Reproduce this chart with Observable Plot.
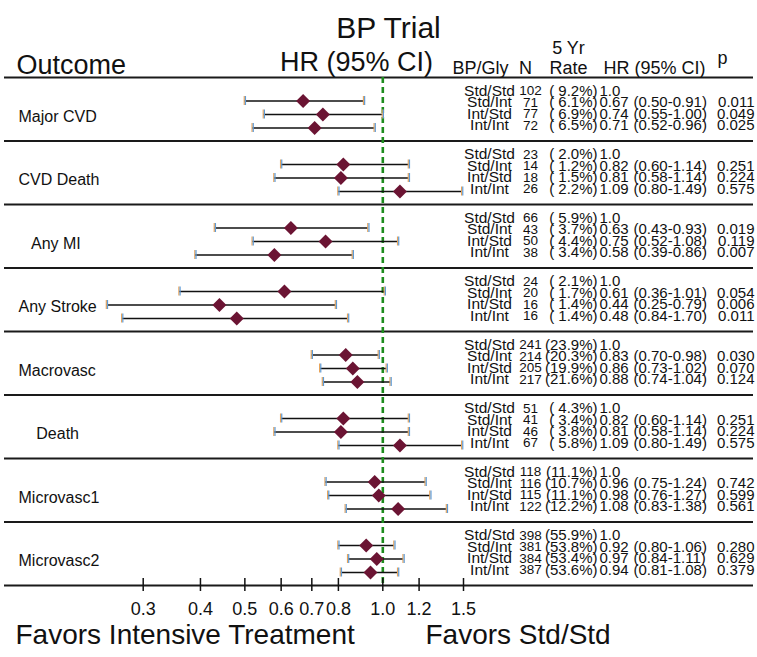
<!DOCTYPE html>
<html><head><meta charset="utf-8">
<script src="https://cdn.jsdelivr.net/npm/d3@7"></script>
<script src="https://cdn.jsdelivr.net/npm/@observablehq/plot@0.6"></script>
<style>
html,body{margin:0;padding:0;background:#fff;}
svg text{white-space:pre;}
</style></head><body><div id="chart"></div>
<script>
// ---- data ----
const outcomeLabels = ["Major CVD","CVD Death","   Any MI","Any Stroke","Macrovasc","    Death","Microvasc1","Microvasc2"];
const arms = ["Std/Std","Std/Int","Int/Std","Int/Int"];
const nCounts = [
  [102,71,77,72],[23,14,18,26],[66,43,50,38],[24,20,16,16],
  [241,214,205,217],[51,41,46,67],[118,116,115,122],[398,381,384,387]];
const rates = [
  [9.2,6.1,6.9,6.5],[2.0,1.2,1.5,2.2],[5.9,3.7,4.4,3.4],[2.1,1.7,1.4,1.4],
  [23.9,20.3,19.9,21.6],[4.3,3.4,3.8,5.8],[11.1,10.7,11.1,12.2],[55.9,53.8,53.4,53.6]];
// hazard ratios for Std/Int, Int/Std, Int/Int (Std/Std is reference 1.0)
const hrs = [
  [0.67,0.74,0.71],[0.82,0.81,1.09],[0.63,0.75,0.58],[0.61,0.44,0.48],
  [0.83,0.86,0.88],[0.82,0.81,1.09],[0.96,0.98,1.08],[0.92,0.97,0.94]];
const ciLow = [
  [0.50,0.55,0.52],[0.60,0.58,0.80],[0.43,0.52,0.39],[0.36,0.25,0.27],
  [0.70,0.73,0.74],[0.60,0.58,0.80],[0.75,0.76,0.83],[0.80,0.84,0.81]];
const ciHigh = [
  [0.91,1.00,0.96],[1.14,1.14,1.49],[0.93,1.08,0.86],[1.01,0.79,0.84],
  [0.98,1.02,1.04],[1.14,1.14,1.49],[1.24,1.27,1.38],[1.06,1.11,1.08]];
const ciLabels = [
  ["(0.50-0.91)","(0.55-1.00)","(0.52-0.96)"],
  ["(0.60-1.14)","(0.58-1.14)","(0.80-1.49)"],
  ["(0.43-0.93)","(0.52-1.08)","(0.39-0.86)"],
  ["(0.36-1.01)","(0.25-0.79)","(0.84-1.70)"],
  ["(0.70-0.98)","(0.73-1.02)","(0.74-1.04)"],
  ["(0.60-1.14)","(0.58-1.14)","(0.80-1.49)"],
  ["(0.75-1.24)","(0.76-1.27)","(0.83-1.38)"],
  ["(0.80-1.06)","(0.84-1.11)","(0.81-1.08)"]];
const pValues = [
  ["0.011","0.049","0.025"],["0.251","0.224","0.575"],["0.019","0.119","0.007"],
  ["0.054","0.006","0.011"],["0.030","0.070","0.124"],["0.251","0.224","0.575"],
  ["0.742","0.599","0.561"],["0.280","0.629","0.379"]];
const xTicks = [0.3,0.4,0.5,0.6,0.7,0.8,1.0,1.2,1.5];
const xTickLabels = ["0.3","0.4","0.5","0.6","0.7","0.8","1.0","1.2","1.5"];

// ---- derived tables ----
const groups = outcomeLabels.map((label, g) => ({g, label}));
const tableRows = [];
const bars = [];
outcomeLabels.forEach((_, g) => {
  arms.forEach((arm, r) => {
    const rate = rates[g][r];
    tableRows.push({
      g, r, arm,
      n: String(nCounts[g][r]),
      rate: "(" + (rate < 10 ? " " : "") + rate.toFixed(1) + "%)",
      hr: r === 0 ? "1.0" : hrs[g][r-1].toFixed(2),
      ci: r === 0 ? "" : ciLabels[g][r-1],
      p: r === 0 ? "" : pValues[g][r-1]
    });
    if (r > 0) bars.push({g, r, hr: hrs[g][r-1], lo: ciLow[g][r-1], hi: ciHigh[g][r-1]});
  });
});
const textY = d => d.g + 0.2126 + 0.1811 * d.r;
const barY = d => d.g + 0.370 + 0.2126 * (d.r - 1);

const W = 757, H = 657, TOP = 77, BOTTOM = 585;
const font = "Liberation Sans, Arial, sans-serif";
const txt = (data, o) => Plot.text(data, {fill: "#111", fontFamily: font, ...o});

const chart = Plot.plot({
  width: W, height: H,
  marginTop: TOP, marginBottom: H - BOTTOM, marginLeft: 0, marginRight: 0,
  style: {fontFamily: font, background: "#fff"},
  x: {type: "log", domain: [0.3, 1.5], range: [142.7, 463], axis: null},
  y: {domain: [0, 8], range: [TOP, BOTTOM], axis: null},
  marks: [
    Plot.ruleY(d3.range(0, 9), {y: d => d, stroke: "#1a1a1a", strokeWidth: 2, insetLeft: 4, insetRight: 4}),
    Plot.ruleX([1], {x: d => d, stroke: "#1e8c1e", strokeWidth: 2.6, strokeDasharray: "6,4"}),
    Plot.ruleY(bars, {y: barY, x1: "lo", x2: "hi", stroke: "#111", strokeWidth: 1.6}),
    Plot.ruleX(bars, {x: "lo", y1: barY, y2: barY, insetTop: -4.5, insetBottom: -4.5, stroke: "#e8a45a", strokeWidth: 1.2, dx: -0.6}),
    Plot.ruleX(bars, {x: "lo", y1: barY, y2: barY, insetTop: -4.5, insetBottom: -4.5, stroke: "#5d9bd8", strokeWidth: 1.2, dx: 0.6}),
    Plot.ruleX(bars, {x: "hi", y1: barY, y2: barY, insetTop: -4.5, insetBottom: -4.5, stroke: "#e8a45a", strokeWidth: 1.2, dx: -0.6}),
    Plot.ruleX(bars, {x: "hi", y1: barY, y2: barY, insetTop: -4.5, insetBottom: -4.5, stroke: "#5d9bd8", strokeWidth: 1.2, dx: 0.6}),
    Plot.dot(bars, {x: "hr", y: barY, symbol: "diamond2", r: 6.3, fill: "#6b1433", stroke: null}),
    Plot.ruleX(xTicks, {x: d => d, y1: () => 8, y2: () => 8, insetTop: -7, insetBottom: -6, stroke: "#111", strokeWidth: 1.5}),
    txt(xTicks, {x: d => d, text: (d, i) => xTickLabels[i], frameAnchor: "bottom", dy: 29, fontSize: 18}),
    txt(groups, {y: d => d.g + 0.62, text: "label", frameAnchor: "left", dx: 18, textAnchor: "start", fontSize: 16}),
    txt(tableRows, {y: textY, text: "arm", frameAnchor: "left", dx: 489, textAnchor: "middle", fontSize: 15.5}),
    txt(tableRows, {y: textY, text: "n", frameAnchor: "left", dx: 530, textAnchor: "middle", fontSize: 13.5}),
    txt(tableRows, {y: textY, text: "rate", frameAnchor: "left", dx: 597, textAnchor: "end", fontSize: 15}),
    txt(tableRows, {y: textY, text: "hr", frameAnchor: "left", dx: 599, textAnchor: "start", fontSize: 15}),
    txt(tableRows, {y: textY, text: "ci", frameAnchor: "left", dx: 633, textAnchor: "start", fontSize: 15}),
    txt(tableRows, {y: textY, text: "p", frameAnchor: "left", dx: 754, textAnchor: "end", fontSize: 15}),
    txt(["BP Trial"], {text: d => d, frameAnchor: "top-left", dx: 388, dy: -60.6, textAnchor: "middle", fontSize: 30}),
    txt(["HR (95% CI)"], {text: d => d, frameAnchor: "top-left", dx: 356, dy: -25.6, textAnchor: "middle", fontSize: 27}),
    txt(["Outcome"], {text: d => d, frameAnchor: "top-left", dx: 16, dy: -22.6, textAnchor: "start", fontSize: 27}),
    txt(["BP/Gly"], {text: d => d, frameAnchor: "top-left", dx: 452, dy: -16, textAnchor: "start", fontSize: 18}),
    txt(["N"], {text: d => d, frameAnchor: "top-left", dx: 525, dy: -16, textAnchor: "middle", fontSize: 18}),
    txt(["5 Yr"], {text: d => d, frameAnchor: "top-left", dx: 568, dy: -36, textAnchor: "middle", fontSize: 18}),
    txt(["Rate"], {text: d => d, frameAnchor: "top-left", dx: 568, dy: -16, textAnchor: "middle", fontSize: 18}),
    txt(["HR (95% CI)"], {text: d => d, frameAnchor: "top-left", dx: 603, dy: -16, textAnchor: "start", fontSize: 18}),
    txt(["p"], {text: d => d, frameAnchor: "top-left", dx: 722, dy: -26, textAnchor: "middle", fontSize: 18}),
    txt(["Favors Intensive Treatment"], {text: d => d, frameAnchor: "bottom-left", dx: 15, dy: 58.7, textAnchor: "start", fontSize: 28}),
    txt(["Favors Std/Std"], {text: d => d, frameAnchor: "bottom-left", dx: 425, dy: 58.7, textAnchor: "start", fontSize: 28})
  ]
});
document.getElementById("chart").appendChild(chart);
</script></body></html>
